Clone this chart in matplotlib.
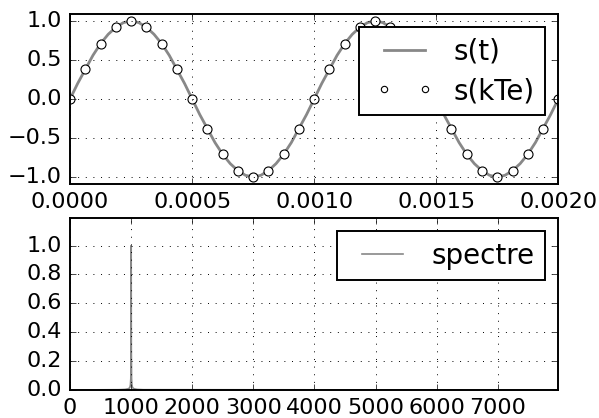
import numpy as np
import matplotlib
matplotlib.use("Agg")
import matplotlib.pyplot as plt
from matplotlib.legend_handler import HandlerLine2D

# s(t), 65 points over [0, 0.002]
s_t = [0.0, 0.20, 0.38, 0.56, 0.71, 0.83, 0.92, 0.98, 1.0, 0.98, 0.92, 0.83, 0.71, 0.56, 0.38, 0.20,
       0.0, -0.20, -0.38, -0.56, -0.71, -0.83, -0.92, -0.98, -1.0, -0.98, -0.92, -0.83, -0.71, -0.56, -0.38, -0.20,
       0.0, 0.20, 0.38, 0.56, 0.71, 0.83, 0.92, 0.98, 1.0, 0.98, 0.92, 0.83, 0.71, 0.56, 0.38, 0.20,
       0.0, -0.20, -0.38, -0.56, -0.71, -0.83, -0.92, -0.98, -1.0, -0.98, -0.92, -0.83, -0.71, -0.56, -0.38, -0.20,
       0.0]
# s(kTe), 33 samples
s_k = [0.0, 0.38, 0.71, 0.92, 1.0, 0.92, 0.71, 0.38, 0.0, -0.38, -0.71, -0.92, -1.0, -0.92, -0.71, -0.38,
       0.0, 0.38, 0.71, 0.92, 1.0, 0.92, 0.71, 0.38, 0.0, -0.38, -0.71, -0.92, -1.0, -0.92, -0.71, -0.38,
       0.0]
t_end = 0.002
t_ticks = [0, 0.0005, 0.001, 0.0015, 0.002]
t_labels = ["0.0000", "0.0005", "0.0010", "0.0015", "0.0020"]

# spectrum
freq = [0, 800, 900, 950, 970, 980, 988, 994, 998, 1000, 1002, 1006, 1012, 1020, 1030, 1050, 1100, 1200, 7990]
spec = [0.0, 0.002, 0.004, 0.008, 0.013, 0.02, 0.035, 0.08, 0.3, 1.0, 0.3, 0.08, 0.035, 0.02, 0.013, 0.008, 0.004, 0.002, 0.0]
f_ticks = [0, 1000, 2000, 3000, 4000, 5000, 6000, 7000]

plt.style.use("classic")
plt.rcParams["font.size"] = 16
plt.rcParams["lines.scale_dashes"] = False

grid_kw = dict(ls=(0, (0.7, 4.8)), color="black", lw=0.7)
leg_kw = dict(loc="upper right", fontsize=20, handlelength=2.0, handletextpad=1.05,
              borderpad=0.37, labelspacing=0.42, borderaxespad=0.47, fancybox=False)
# shift the legend handles to the right, like the old legend layout
hmap = HandlerLine2D(xpad=0.55, marker_pad=0)

fig = plt.figure(figsize=(5.99, 4.18), dpi=100)
fig.patch.set_facecolor("white")

ax1 = fig.add_axes([0.117, 0.56, 0.815, 0.4065])
t = np.linspace(0, t_end, len(s_t))
tk = np.linspace(0, t_end, len(s_k))
l1, = ax1.plot(t, s_t, color="#888888", lw=2, label="s(t)")
l2, = ax1.plot(tk, s_k, "o", mfc="white", mec="black", ms=6.5, mew=0.8, label="s(kTe)")
ax1.set_xlim(0, t_end)
ax1.set_ylim(-1.09, 1.09)
ax1.set_xticks(t_ticks)
ax1.set_xticklabels(t_labels)
ax1.set_yticks([-1.0, -0.5, 0.0, 0.5, 1.0])
ax1.grid(True, **grid_kw)
leg1 = ax1.legend(numpoints=2, markerscale=0.7, handler_map={l1: hmap, l2: hmap}, **leg_kw)
leg1.get_frame().set_linewidth(1.4)

ax2 = fig.add_axes([0.117, 0.067, 0.815, 0.411])
l3, = ax2.plot(freq, spec, color="#888888", lw=1.2, label="spectre")
ax2.set_xlim(0, 7990)
ax2.set_ylim(0, 1.19)
ax2.set_xticks(f_ticks)
ax2.set_yticks([0.0, 0.2, 0.4, 0.6, 0.8, 1.0])
ax2.grid(True, **grid_kw)
leg2 = ax2.legend(handler_map={l3: hmap}, **leg_kw)
leg2.get_frame().set_linewidth(1.4)

for ax in (ax1, ax2):
    for sp in ax.spines.values():
        sp.set_linewidth(1.4)
    ax.tick_params(labelsize=16, pad=6)

fig.savefig("out.png", dpi=100, facecolor="white")
